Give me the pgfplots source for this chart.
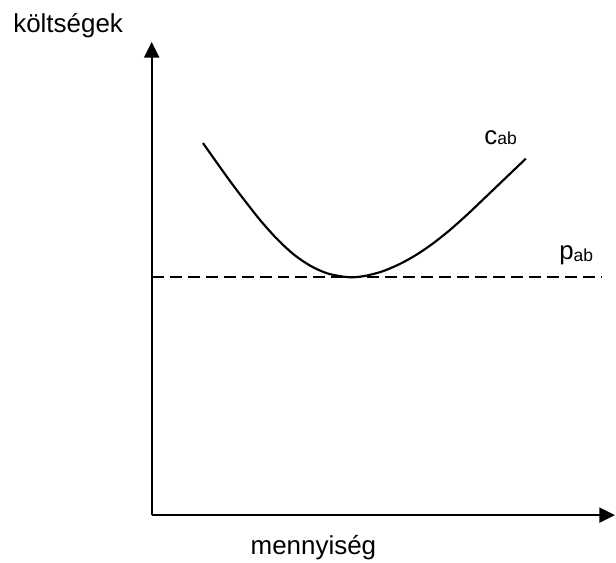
\documentclass[border=0pt]{standalone}
\usepackage{pgfplots}
\pgfplotsset{compat=1.18}
\usepackage{fontspec}
\setmainfont{Liberation Sans}
\usetikzlibrary{arrows.meta}

\begin{document}
\begin{tikzpicture}
\begin{axis}[
    anchor=origin, at={(0,0)},
    x=0.6pt, y=0.6pt,
    xmin=0, xmax=464, ymin=0, ymax=474,
    axis lines=left,
    axis line style={line width=1.3pt, -{Triangle[length=9.4pt,width=9pt]}},
    xtick=\empty, ytick=\empty,
    clip=false
]
% c_ab cost curve
\addplot[smooth, line width=1.3pt, black] coordinates {
    (51.3, 372.7) (76.3, 337.5) (93, 315.3) (109.7, 294.2) (126.3, 275.8)
    (143, 260.5) (159.7, 249.3) (176.3, 242.0) (193, 238.7) (203, 238.3)
    (214.7, 239.8) (231.3, 244.2) (248, 251.3) (264.7, 260.5) (281.3, 271.8)
    (298, 285) (314.7, 299.8) (331.3, 315.5) (348, 331.5) (374.7, 357)
};
% p_ab price line
\addplot[line width=1.3pt, black, dash pattern=on 7.2pt off 3.6pt] coordinates {
    (0, 238.3) (451, 238.3)
};
\node[anchor=base west, inner sep=0pt] at (axis cs:333,371.7)
    {\fontsize{15.5}{17}\selectfont c\fontsize{10.5}{12}\selectfont ab};
\node[anchor=base west, inner sep=0pt] at (axis cs:408,256.5)
    {\fontsize{15.5}{17}\selectfont p\raisebox{-1.5pt}{\fontsize{10.5}{12}\selectfont ab}};
\node[anchor=base west, inner sep=0pt] at (axis cs:-139,483)
    {\fontsize{15.6}{18}\selectfont költségek};
\node[anchor=base, inner sep=0pt] at (axis cs:162,-39)
    {\fontsize{15.6}{18}\selectfont mennyiség};
\end{axis}
\useasboundingbox (-91.2pt,-28.2pt) rectangle (278.4pt,309.6pt);
\end{tikzpicture}
\end{document}
